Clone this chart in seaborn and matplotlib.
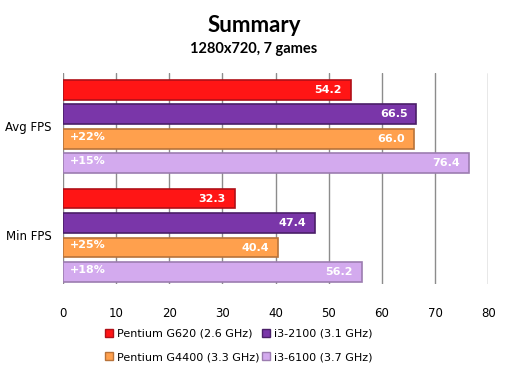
import pandas as pd
import matplotlib.pyplot as plt
import seaborn as sns
from matplotlib.patches import Patch

# Chart data
metrics = ['Avg FPS', 'Min FPS']
cpus = ['Pentium G620 (2.6 GHz)', 'i3-2100 (3.1 GHz)',
        'Pentium G4400 (3.3 GHz)', 'i3-6100 (3.7 GHz)']
avg_fps = [54.2, 66.5, 66.0, 76.4]
min_fps = [32.3, 47.4, 40.4, 56.2]
gain_labels = {'Pentium G4400 (3.3 GHz)': ['+22%', '+25%'],
               'i3-6100 (3.7 GHz)': ['+15%', '+18%']}
x_ticks = [0, 10, 20, 30, 40, 50, 60, 70, 80]

colors = ['#FF1515', '#7A36A9', '#FFA04D', '#D3AAEE']
edges = ['#B01018', '#4A1F68', '#B8733A', '#9C7DB0']

rows = []
for cpu, a, m in zip(cpus, avg_fps, min_fps):
    rows.append({'metric': 'Avg FPS', 'cpu': cpu, 'fps': a})
    rows.append({'metric': 'Min FPS', 'cpu': cpu, 'fps': m})
df = pd.DataFrame(rows)

sns.set_style('white')
plt.rcParams['font.family'] = ['DejaVu Sans']
plt.rcParams['text.color'] = 'black'
plt.rcParams['xtick.labelcolor'] = 'black'
plt.rcParams['ytick.labelcolor'] = 'black'

fig = plt.figure(figsize=(5.08, 3.75), dpi=100)
ax = fig.add_axes([0.124, 0.243, 0.837, 0.562])

sns.barplot(data=df, y='metric', x='fps', hue='cpu', order=metrics,
            hue_order=cpus, palette=colors, saturation=1, orient='h',
            width=0.9, gap=0.2, errorbar=None, legend=False, ax=ax, zorder=3)

# edge colours per series
for cont, ec in zip(ax.containers, edges):
    for bar in cont:
        bar.set_edgecolor(ec)
        bar.set_linewidth(1.2)

# value labels and percent labels
for cont, cpu in zip(ax.containers, cpus):
    for i, bar in enumerate(cont):
        w = bar.get_width()
        yc = bar.get_y() + bar.get_height() / 2
        ax.text(w - 1.7, yc, f'{w:.1f}', ha='right', va='center',
                color='white', fontsize=8, fontweight='bold', zorder=5)
        if cpu in gain_labels:
            ax.text(1.3, yc - 0.02, gain_labels[cpu][i], ha='left', va='center',
                    color='white', fontsize=8, fontweight='bold', zorder=5)

ax.set_xlim(0, 80)
ax.set_ylim(1.445, -0.49)
ax.set_xticks(x_ticks)
ax.xaxis.grid(True, color='#8C8C8C', linewidth=1)
ax.set_axisbelow(True)
for s in ax.spines.values():
    s.set_visible(False)
ax.tick_params(axis='x', length=5, color='#8C8C8C', pad=12, labelsize=8.5)
ax.tick_params(axis='y', length=0, pad=8, labelsize=8.5)
ax.set_xlabel('')
ax.set_ylabel('')

fig.text(0.5, 0.933, 'Summary', ha='center', va='center',
         fontsize=16, fontweight='bold', family='Lato')
fig.text(0.5, 0.869, '1280x720, 7 games', ha='center', va='center',
         fontsize=10.5, fontweight='bold', family='Lato')

# legend: row1 G620 / i3-2100, row2 G4400 / i3-6100
handles = [Patch(facecolor=c, edgecolor=e) for c, e in zip(colors, edges)]
order = [0, 2, 1, 3]
fig.legend([handles[i] for i in order], [cpus[i] for i in order],
           loc='center', bbox_to_anchor=(0.47, 0.079), ncol=2, frameon=False,
           fontsize=8, handlelength=0.7, handleheight=0.7, handletextpad=0.3,
           columnspacing=0.3, labelspacing=1.2)

plt.savefig('out.png', dpi=100)
plt.close()
